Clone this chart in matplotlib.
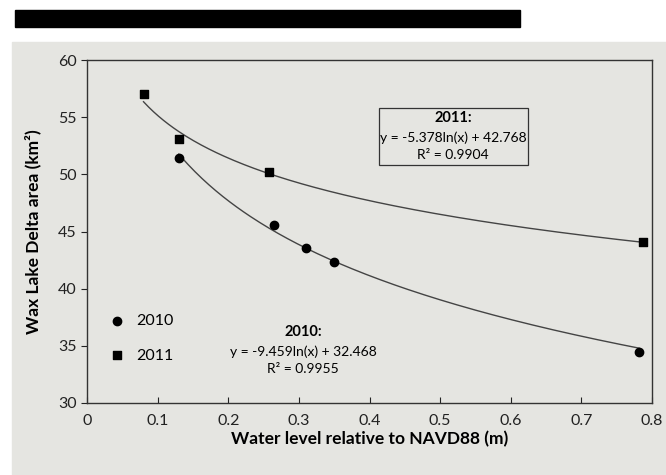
import numpy as np
import matplotlib
matplotlib.use('Agg')
import matplotlib.pyplot as plt
from matplotlib.patches import Rectangle

# water level (m) vs delta area (km2)
x_2010 = [0.13, 0.265, 0.31, 0.35, 0.782]
y_2010 = [51.4, 45.6, 43.6, 42.3, 34.5]
x_2011 = [0.08, 0.13, 0.257, 0.787]
y_2011 = [57.0, 53.1, 50.2, 44.1]

# log trendlines as printed on the chart
fit_2010 = (-9.459, 32.468, 0.9955)
fit_2011 = (-5.378, 42.768, 0.9904)

plt.rcParams['font.family'] = ['Lato', 'DejaVu Sans']
bg = '#e5e5e1'

fig = plt.figure(figsize=(6.66, 4.75), dpi=100)
W, H = 666, 475
fig.patches.append(Rectangle((15 / W, 1 - 27 / H), 505 / W, 17 / H,
                             transform=fig.transFigure, color='black', zorder=-10))
fig.patches.append(Rectangle((12 / W, 0), 1, 1 - 42 / H,
                             transform=fig.transFigure, color=bg, zorder=-10))

ax = fig.add_axes([87 / W, 1 - 403 / H, (652 - 87) / W, (403 - 60) / H])
ax.set_facecolor(bg)

for xs, (a, b, r2) in [(x_2010, fit_2010), (x_2011, fit_2011)]:
    xx = np.linspace(min(xs), max(xs), 200)
    ax.plot(xx, a * np.log(xx) + b, color='#444444', lw=1.0, zorder=2)

ax.scatter(x_2010, y_2010, marker='o', s=36, color='black', zorder=3, label='2010')
ax.scatter(x_2011, y_2011, marker='s', s=36, color='black', zorder=3, label='2011')

ax.set_xlim(0, 0.8)
ax.set_ylim(30, 60)
ax.set_xticks(np.arange(0, 0.81, 0.1))
ax.set_xticklabels(['0'] + ['%.1f' % v for v in np.arange(0.1, 0.81, 0.1)])
ax.set_yticks(range(30, 61, 5))
ax.tick_params(axis='y', direction='out', length=4, labelsize=11.5, colors='#222222')
ax.tick_params(axis='x', direction='in', length=4, labelsize=11.5, colors='#222222', pad=8)
for s in ax.spines.values():
    s.set_color('#333333')
    s.set_linewidth(1.0)

ax.set_ylabel('Wax Lake Delta area (km²)', fontsize=12.5, fontweight='bold', labelpad=12)
ax.set_xlabel('Water level relative to NAVD88 (m)', fontsize=12.5, fontweight='bold', labelpad=2)

leg = ax.legend(loc='lower left', bbox_to_anchor=(0.005, 0.085), frameon=False,
                fontsize=11.5, handletextpad=0.2, labelspacing=1.3, borderpad=0.2)

# 2011 equation box
fig.patches.append(Rectangle((379 / W, 1 - 165 / H), 149 / W, 57 / H,
                             transform=fig.transFigure, fc='none', ec='#333333',
                             lw=0.9, zorder=5))
a, b, r2 = fit_2011
ax.annotate('2011:', xy=(453 / W, 1 - 118 / H), xycoords='figure fraction',
            ha='center', va='center', fontsize=10.5, fontweight='bold')
ax.annotate('y = %.3fln(x) + %.3f\nR² = %.4f' % (a, b, r2), xy=(453 / W, 1 - 146 / H),
            xycoords='figure fraction', ha='center', va='center', fontsize=10,
            linespacing=1.45)

a, b, r2 = fit_2010
ax.annotate('2010:', xy=(303 / W, 1 - 332 / H), xycoords='figure fraction',
            ha='center', va='center', fontsize=10.5, fontweight='bold')
ax.annotate('y = %.3fln(x) + %.3f\nR² = %.4f' % (a, b, r2), xy=(303 / W, 1 - 360 / H),
            xycoords='figure fraction', ha='center', va='center', fontsize=10,
            linespacing=1.45)

fig.savefig('out.png', dpi=100)
